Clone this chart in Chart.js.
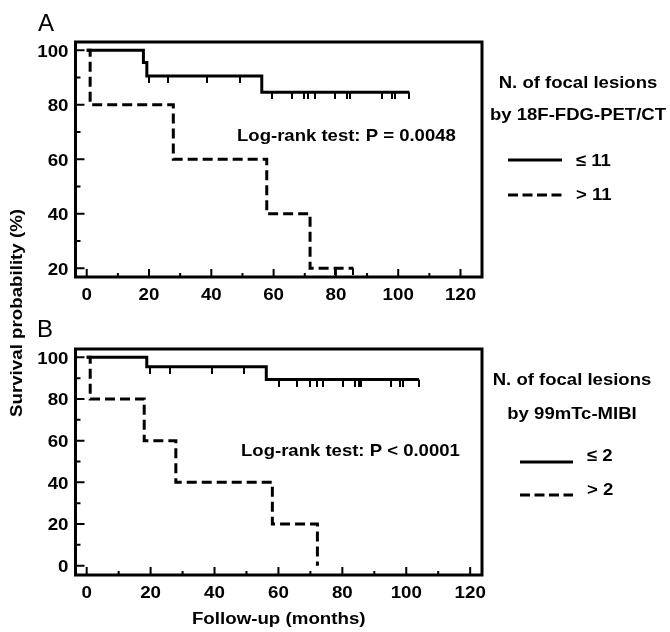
<!DOCTYPE html>
<html>
<head>
<meta charset="utf-8">
<script src="https://cdn.jsdelivr.net/npm/chart.js@4/dist/chart.umd.min.js"></script>
<style>
  body { margin: 0; background: #fff; width: 670px; height: 632px; position: relative; overflow: hidden; }
  canvas { position: absolute; left: 0; }
  #graficoA { top: 0; }
  #graficoB { top: 300px; }
  #tituloY {
    position: absolute; left: 17px; top: 313px;
    transform: translate(-50%, -50%) rotate(-90deg) scaleX(1.17);
    font: bold 16px "Liberation Sans", Arial, sans-serif;
    white-space: nowrap; color: #000;
  }
</style>
</head>
<body>
<canvas id="graficoA" width="670" height="310"></canvas>
<canvas id="graficoB" width="670" height="332"></canvas>
<div id="tituloY">Survival probability (%)</div>
<script>
// ---- datos panel A (18F-FDG-PET/CT) ----
const tiempoA1 = [0, 18.2, 19.3, 56.2, 103.6];
const survA1 = [100, 95.5, 90.5, 84.6, 84.6];
const censA1 = [20, 26.2, 38.7, 49.2, 59.4, 65.8, 69.8, 71.1, 73.3, 79.7, 83.5, 84.5, 94.7, 97.9, 99, 103.6];
const tiempoA2 = [0, 1.1, 27.8, 57.8, 71.7, 85.6];
const survA2 = [100, 80, 60, 40, 20, 20];
const censA2 = [79.7, 85.6];

// ---- datos panel B (99mTc-MIBI) ----
const tiempoB1 = [0, 18.8, 56.2, 104];
const survB1 = [100, 95.5, 89.3, 89.3];
const censB1 = [19.8, 26, 39.3, 49.2, 60.1, 65.9, 69.8, 72.1, 73.9, 80.2, 84.1, 85.1, 85.9, 95.3, 98, 99.1, 104];
const tiempoB2 = [0, 1.1, 18, 27.9, 58.1, 72.2];
const survB2 = [100, 80, 60, 40, 20, 0];
const censB2 = [];

// ---- ticks ----
const xTicks = [0, 20, 40, 60, 80, 100, 120];
const xMinor = [10, 30, 50, 70, 90, 110];
const yTicksA = [20, 40, 60, 80, 100];
const yMinorA = [30, 50, 70, 90];
const yTicksB = [0, 20, 40, 60, 80, 100];
const yMinorB = [10, 30, 50, 70, 90];

// ---- textos ----
const textoLogRankA = 'Log-rank test: P = 0.0048';
const textoLogRankB = 'Log-rank test: P < 0.0001';
const leyendaTituloA = ['N. of focal lesions', 'by 18F-FDG-PET/CT'];
const leyendaTituloB = ['N. of focal lesions', 'by 99mTc-MIBI'];
const gruposA = ['\u2264 11', '> 11'];
const gruposB = ['\u2264 2', '> 2'];
const tituloEjeX = 'Follow-up (months)';

const fuente = '"Liberation Sans", Arial, sans-serif';
Chart.defaults.font.family = fuente;
Chart.defaults.color = '#000';

// marca de censura: rayita vertical hacia abajo
const marca = document.createElement('canvas');
marca.width = 2;
marca.height = 14;
const mctx = marca.getContext('2d');
mctx.fillStyle = '#000';
mctx.fillRect(0, 7, 2, 7);

function puntos(tiempos, surv) {
    return tiempos.map((t, i) => ({ x: t, y: surv[i] }));
}

// valor de la curva en el tiempo t
function nivel(tiempos, surv, t) {
    let v = surv[0];
    for (let i = 0; i < tiempos.length; i++) {
        if (tiempos[i] <= t) v = surv[i];
    }
    return v;
}

function censuras(tiempos, surv, cens) {
    return cens.map(t => ({ x: t, y: nivel(tiempos, surv, t) }));
}

// texto un poco ensanchado, como en la figura original
function texto(ctx, str, x, y, align, size, sx, peso) {
    ctx.save();
    ctx.translate(x, y);
    ctx.scale(sx, 1);
    ctx.font = (peso || 'bold') + ' ' + size + 'px ' + fuente;
    ctx.textAlign = align;
    ctx.textBaseline = 'middle';
    ctx.fillStyle = '#000';
    ctx.fillText(str, 0, 0);
    ctx.restore();
}

// marco completo, ticks hacia adentro y etiquetas
const marcoPlugin = {
    id: 'marco',
    afterDatasetsDraw(chart, args, opts) {
        const ctx = chart.ctx;
        const a = chart.chartArea;
        const xs = chart.scales.x;
        const ys = chart.scales.y;
        ctx.save();
        ctx.strokeStyle = '#000';
        ctx.lineWidth = 2;
        ctx.beginPath();
        xs.ticks.forEach(t => { const p = xs.getPixelForValue(t.value); ctx.moveTo(p, a.bottom); ctx.lineTo(p, a.bottom - 8); });
        xMinor.forEach(v => { const p = xs.getPixelForValue(v); ctx.moveTo(p, a.bottom); ctx.lineTo(p, a.bottom - 4); });
        ys.ticks.forEach(t => { const p = ys.getPixelForValue(t.value); ctx.moveTo(a.left, p); ctx.lineTo(a.left + 9, p); });
        opts.yMenor.forEach(v => { const p = ys.getPixelForValue(v); ctx.moveTo(a.left, p); ctx.lineTo(a.left + 5, p); });
        ctx.stroke();
        ctx.lineWidth = 3;
        ctx.strokeRect(a.left, a.top, a.right - a.left, a.bottom - a.top);
        ctx.restore();

        xs.ticks.forEach(t => {
            texto(ctx, String(t.value), xs.getPixelForValue(t.value), a.bottom + 19, 'center', 16, 1.17);
        });
        ys.ticks.forEach(t => {
            texto(ctx, String(t.value), a.left - 7, ys.getPixelForValue(t.value) + 2, 'right', 16, 1.17);
        });
        if (opts.tituloX) {
            texto(ctx, opts.tituloX, (a.left + a.right) / 2, a.bottom + 45, 'center', 16, 1.17);
        }
    }
};

// letras, log-rank y leyenda
const textosPlugin = {
    id: 'textos',
    afterDraw(chart, args, o) {
        const ctx = chart.ctx;
        texto(ctx, o.letra, o.letraX, o.letraY, 'left', 24, 1, 'normal');
        texto(ctx, o.logRank, o.logX, o.logY, 'left', 17, 1.09);
        texto(ctx, o.titulo[0], o.tituloX, o.tituloY[0], 'center', 17, 1.09);
        texto(ctx, o.titulo[1], o.tituloX, o.tituloY[1], 'center', 17, 1.09);

        ctx.save();
        ctx.strokeStyle = '#000';
        ctx.lineWidth = 3;
        // linea continua
        ctx.setLineDash([]);
        ctx.beginPath();
        ctx.moveTo(o.lineaX[0], o.lineaY[0]);
        ctx.lineTo(o.lineaX[1], o.lineaY[0]);
        ctx.stroke();
        // linea discontinua
        ctx.setLineDash([10, 4.5]);
        ctx.beginPath();
        ctx.moveTo(o.lineaX[0], o.lineaY[1]);
        ctx.lineTo(o.lineaX[1], o.lineaY[1]);
        ctx.stroke();
        ctx.restore();

        texto(ctx, o.grupos[0], o.grupoX, o.grupoY[0], 'left', 17, 1.09);
        texto(ctx, o.grupos[1], o.grupoX, o.grupoY[1], 'left', 17, 1.09);
    }
};

function crearGrafico(id, cfg) {
    const ctx = document.getElementById(id).getContext('2d');
    return new Chart(ctx, {
        type: 'scatter',
        data: {
            datasets: [
                { data: puntos(cfg.t1, cfg.s1), showLine: true, stepped: true, borderColor: '#000', borderWidth: 3, pointRadius: 0, fill: false },
                { data: puntos(cfg.t2, cfg.s2), showLine: true, stepped: true, borderColor: '#000', borderWidth: 3, borderDash: [10, 5], pointRadius: 0, fill: false },
                { data: censuras(cfg.t1, cfg.s1, cfg.c1), showLine: false, pointStyle: marca, pointRadius: 3 },
                { data: censuras(cfg.t2, cfg.s2, cfg.c2), showLine: false, pointStyle: marca, pointRadius: 3 }
            ]
        },
        options: {
            responsive: false,
            animation: false,
            layout: { padding: { left: 0, top: cfg.top, right: 188, bottom: 0 } },
            plugins: {
                legend: { display: false },
                tooltip: { enabled: false },
                marco: { yMenor: cfg.yMinor, tituloX: cfg.tituloX },
                textos: cfg.textos
            },
            scales: {
                x: {
                    type: 'linear',
                    min: cfg.xMin, max: cfg.xMax,
                    grid: { display: false, drawTicks: false },
                    border: { display: false },
                    afterBuildTicks: s => { s.ticks = xTicks.map(v => ({ value: v })); },
                    afterFit: s => { s.height = cfg.altoX; },
                    ticks: { display: false }
                },
                y: {
                    type: 'linear',
                    min: cfg.yMin, max: cfg.yMax,
                    grid: { display: false, drawTicks: false },
                    border: { display: false },
                    afterBuildTicks: s => { s.ticks = cfg.yTicks.map(v => ({ value: v })); },
                    afterFit: s => { s.width = 75.5; },
                    ticks: { display: false }
                }
            }
        },
        plugins: [marcoPlugin, textosPlugin]
    });
}

crearGrafico('graficoA', {
    t1: tiempoA1, s1: survA1, c1: censA1,
    t2: tiempoA2, s2: survA2, c2: censA2,
    xMin: -3.6, xMax: 126.9, yMin: 16.8, yMax: 103,
    yTicks: yTicksA, yMinor: yMinorA,
    top: 42, altoX: 33,
    tituloX: null,
    textos: {
        letra: 'A', letraX: 38, letraY: 24,
        logRank: textoLogRankA, logX: 237, logY: 136,
        titulo: leyendaTituloA, tituloX: 578, tituloY: [83, 115],
        lineaX: [508, 562], lineaY: [160, 195],
        grupos: gruposA, grupoX: 576, grupoY: [161, 195]
    }
});

crearGrafico('graficoB', {
    t1: tiempoB1, s1: survB1, c1: censB1,
    t2: tiempoB2, s2: survB2, c2: censB2,
    xMin: -3.5, xMax: 123.7, yMin: -4.5, yMax: 104,
    yTicks: yTicksB, yMinor: yMinorB,
    top: 49, altoX: 57,
    tituloX: tituloEjeX,
    textos: {
        letra: 'B', letraX: 37, letraY: 30,
        logRank: textoLogRankB, logX: 241, logY: 151,
        titulo: leyendaTituloB, tituloX: 572, tituloY: [80, 114],
        lineaX: [520, 573], lineaY: [162, 195],
        grupos: gruposB, grupoX: 587, grupoY: [156, 190]
    }
});
</script>
</body>
</html>
